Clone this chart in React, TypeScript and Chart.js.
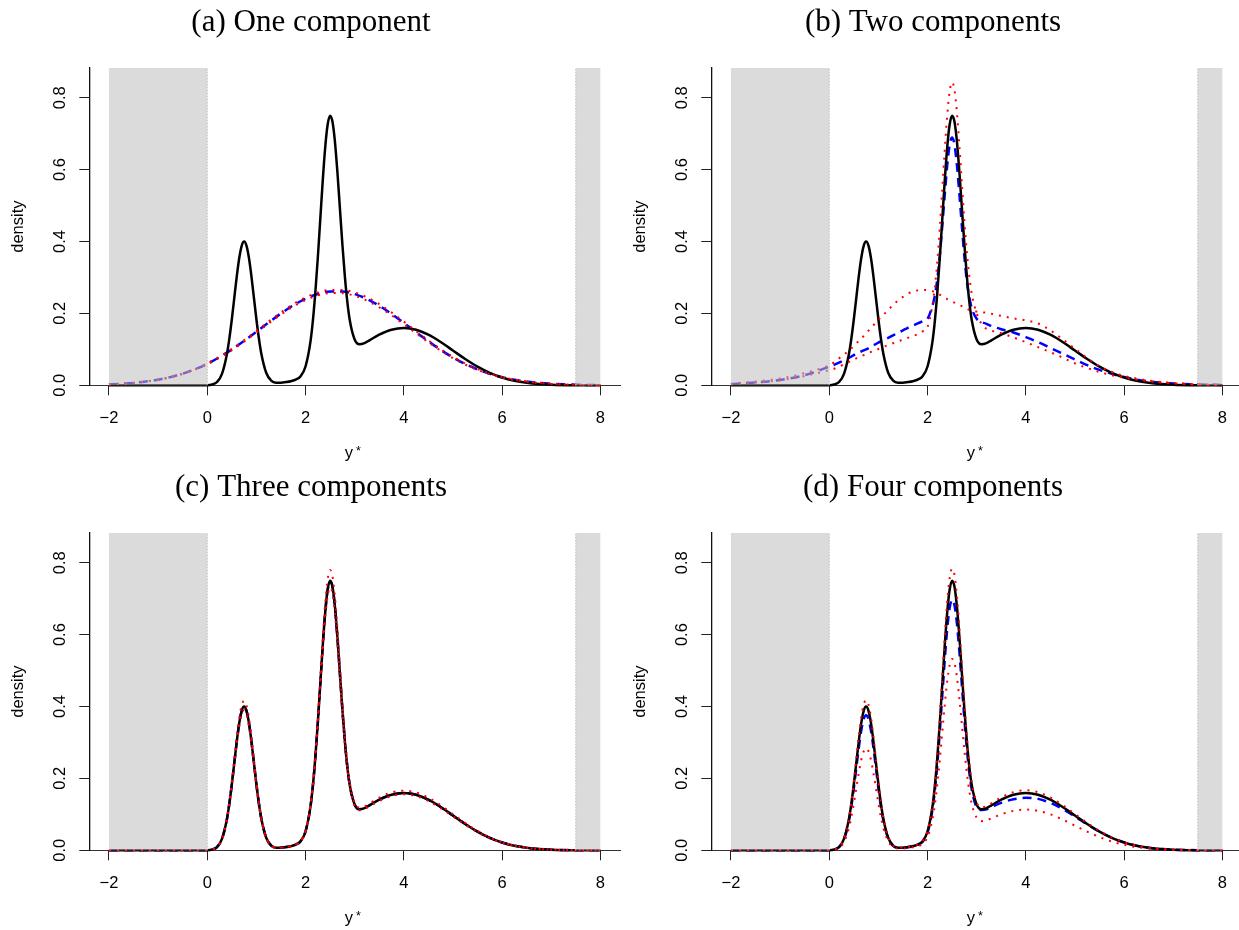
import React, { useEffect, useRef } from "react";
import { Chart, registerables } from "chart.js";

Chart.register(...registerables);

// ---------- data ----------
const xTicks = [-2, 0, 2, 4, 6, 8];
const yTicks = [0, 0.2, 0.4, 0.6, 0.8];
const shadedRegions: [number, number][] = [[-2, 0], [7.5, 8]];
const panelTitles = ["(a) One component", "(b) Two components", "(c) Three components", "(d) Four components"];

const xGrid = [
  -2, -1, -0.5, 0, 0.1, 0.2, 0.3, 0.4, 0.45, 0.5,
  0.55, 0.6, 0.65, 0.7, 0.75, 0.8, 0.85, 0.9, 0.95, 1,
  1.05, 1.1, 1.2, 1.3, 1.4, 1.5, 1.6, 1.7, 1.8, 1.9,
  2, 2.1, 2.15, 2.2, 2.25, 2.3, 2.35, 2.4, 2.45, 2.5,
  2.55, 2.6, 2.65, 2.7, 2.75, 2.8, 2.85, 2.9, 3, 3.1,
  3.2, 3.3, 3.5, 3.75, 4, 4.25, 4.5, 4.75, 5, 5.25,
  5.5, 5.75, 6, 6.25, 6.5, 6.75, 7, 7.5, 8,
];

const trueDensity = [
  0, 0, 0, 0.0004, 0.0021, 0.0092, 0.0319, 0.0865, 0.1298, 0.183,
  0.2424, 0.3016, 0.3527, 0.3874, 0.3997, 0.3877, 0.3532, 0.3024, 0.2435, 0.1844,
  0.1316, 0.0887, 0.0349, 0.0133, 0.0074, 0.0074, 0.0091, 0.0115, 0.0157, 0.0254,
  0.0523, 0.1208, 0.1798, 0.2583, 0.3541, 0.461, 0.5679, 0.6605, 0.7247, 0.7499,
  0.7325, 0.676, 0.5912, 0.492, 0.3927, 0.3044, 0.2334, 0.1817, 0.1275, 0.1142,
  0.1174, 0.1251, 0.1408, 0.1547, 0.1596, 0.1547, 0.1408, 0.1205, 0.0968, 0.0731,
  0.0518, 0.0345, 0.0216, 0.0127, 0.007, 0.0036, 0.0018, 0.0004, 0,
];

// (a) one component
const xA = [
  -2, -1.75, -1.5, -1.25, -1, -0.75, -0.5, -0.25, 0, 0.25,
  0.5, 0.75, 1, 1.25, 1.5, 1.75, 2, 2.25, 2.5, 2.75,
  3, 3.25, 3.5, 3.75, 4, 4.25, 4.5, 4.75, 5, 5.25,
  5.5, 5.75, 6, 6.25, 6.5, 6.75, 7, 7.25, 7.5, 7.75, 8,
];
const meanA = [
  0.0027, 0.0043, 0.0068, 0.0105, 0.0156, 0.0228, 0.0323, 0.0445, 0.0598, 0.0782,
  0.0996, 0.1234, 0.1488, 0.1747, 0.1998, 0.2223, 0.2408, 0.254, 0.2608, 0.2607,
  0.2536, 0.2402, 0.2215, 0.1988, 0.1737, 0.1477, 0.1223, 0.0986, 0.0774, 0.0591,
  0.044, 0.0318, 0.0224, 0.0154, 0.0103, 0.0067, 0.0042, 0.0026, 0.0016, 0.0009, 0.0005,
];
const upperA = [
  0.0029, 0.0046, 0.0072, 0.011, 0.0162, 0.0236, 0.0332, 0.0456, 0.0611, 0.0797,
  0.1014, 0.1255, 0.1512, 0.1774, 0.2028, 0.2257, 0.2445, 0.258, 0.265, 0.2652,
  0.2582, 0.2448, 0.2259, 0.2028, 0.1773, 0.1508, 0.1249, 0.1008, 0.0792, 0.0606,
  0.0452, 0.0328, 0.0232, 0.016, 0.0108, 0.0071, 0.0045, 0.0028, 0.0017, 0.001, 0.0006,
];
const lowerA = [
  0.0025, 0.004, 0.0064, 0.01, 0.015, 0.022, 0.0314, 0.0434, 0.0585, 0.0767,
  0.0978, 0.1213, 0.1464, 0.172, 0.1968, 0.2189, 0.2371, 0.25, 0.2566, 0.2562,
  0.249, 0.2356, 0.2171, 0.1948, 0.1701, 0.1446, 0.1197, 0.0964, 0.0756, 0.0576,
  0.0428, 0.0308, 0.0216, 0.0148, 0.0098, 0.0063, 0.0039, 0.0024, 0.0015, 0.0008, 0.0004,
];

// (b) two components
const meanB = [
  0.003, 0.015, 0.028, 0.052, 0.057, 0.063, 0.069, 0.076, 0.08, 0.084,
  0.088, 0.091, 0.094, 0.097, 0.1, 0.103, 0.107, 0.111, 0.115, 0.119,
  0.122, 0.126, 0.132, 0.139, 0.146, 0.153, 0.16, 0.166, 0.172, 0.178,
  0.185, 0.221, 0.25, 0.296, 0.361, 0.442, 0.529, 0.61, 0.668, 0.689,
  0.668, 0.61, 0.529, 0.442, 0.358, 0.29, 0.245, 0.215, 0.185, 0.176,
  0.171, 0.165, 0.156, 0.147, 0.134, 0.12, 0.104, 0.088, 0.072, 0.056,
  0.043, 0.032, 0.023, 0.016, 0.011, 0.0075, 0.005, 0.002, 0.001,
];
const upperB = [
  0.004, 0.019, 0.034, 0.056, 0.064, 0.075, 0.085, 0.097, 0.103, 0.11,
  0.117, 0.123, 0.13, 0.137, 0.145, 0.152, 0.16, 0.167, 0.175, 0.182,
  0.189, 0.196, 0.209, 0.224, 0.236, 0.246, 0.255, 0.26, 0.264, 0.265,
  0.265, 0.262, 0.259, 0.256, 0.252, 0.248, 0.244, 0.24, 0.236, 0.233,
  0.23, 0.227, 0.223, 0.22, 0.216, 0.213, 0.21, 0.208, 0.205, 0.203,
  0.202, 0.199, 0.193, 0.186, 0.181, 0.172, 0.153, 0.128, 0.102, 0.076,
  0.053, 0.037, 0.026, 0.019, 0.013, 0.009, 0.006, 0.003, 0.001,
];
const lowerB = [
  0.003, 0.014, 0.026, 0.042, 0.046, 0.052, 0.058, 0.065, 0.068, 0.072,
  0.075, 0.078, 0.081, 0.084, 0.087, 0.09, 0.093, 0.096, 0.099, 0.101,
  0.104, 0.107, 0.112, 0.117, 0.122, 0.127, 0.132, 0.137, 0.142, 0.15,
  0.162, 0.222, 0.273, 0.345, 0.437, 0.544, 0.652, 0.749, 0.817, 0.843,
  0.821, 0.757, 0.664, 0.56, 0.458, 0.371, 0.304, 0.255, 0.2, 0.171,
  0.157, 0.152, 0.145, 0.133, 0.12, 0.106, 0.092, 0.077, 0.061, 0.048,
  0.037, 0.028, 0.021, 0.016, 0.011, 0.008, 0.0055, 0.0025, 0.001,
];

// (c) three components
const meanC = [
  0, 0, 0, 0.0004, 0.0021, 0.0091, 0.0316, 0.086, 0.1292, 0.1824,
  0.2418, 0.301, 0.3521, 0.3868, 0.3991, 0.3872, 0.3528, 0.3021, 0.2433, 0.1843,
  0.1316, 0.0887, 0.035, 0.0134, 0.0075, 0.0075, 0.0092, 0.0116, 0.0158, 0.0255,
  0.0522, 0.1204, 0.1792, 0.2576, 0.3533, 0.4601, 0.567, 0.6596, 0.7238, 0.749,
  0.7317, 0.6753, 0.5906, 0.4915, 0.3924, 0.3042, 0.2333, 0.1817, 0.1276, 0.1144,
  0.1176, 0.1252, 0.1407, 0.1545, 0.1593, 0.1544, 0.1405, 0.1203, 0.0967, 0.0731,
  0.0518, 0.0346, 0.0217, 0.0128, 0.0071, 0.0036, 0.0018, 0.0004, 0,
];
const upperC = [
  0, 0, 0, 0.0004, 0.0022, 0.0096, 0.0332, 0.09, 0.135, 0.1903,
  0.2521, 0.3137, 0.3668, 0.4029, 0.4157, 0.4032, 0.3673, 0.3145, 0.2532, 0.1918,
  0.1369, 0.0922, 0.0363, 0.0138, 0.0077, 0.0077, 0.0095, 0.012, 0.0163, 0.0264,
  0.0544, 0.1256, 0.187, 0.2686, 0.3683, 0.4794, 0.5906, 0.6869, 0.7537, 0.7799,
  0.7618, 0.703, 0.6148, 0.5117, 0.4084, 0.3166, 0.2427, 0.189, 0.1326, 0.1188,
  0.1221, 0.1301, 0.1464, 0.1609, 0.166, 0.1609, 0.1464, 0.1253, 0.1007, 0.076,
  0.0539, 0.0359, 0.0225, 0.0132, 0.0073, 0.0037, 0.0019, 0.0004, 0,
];
const lowerC = [
  0, 0, 0, 0.0004, 0.002, 0.009, 0.0311, 0.0843, 0.1266, 0.1784,
  0.2363, 0.2941, 0.3439, 0.3777, 0.3897, 0.378, 0.3444, 0.2948, 0.2374, 0.1798,
  0.1283, 0.0865, 0.034, 0.013, 0.0072, 0.0072, 0.0089, 0.0112, 0.0153, 0.0248,
  0.051, 0.1178, 0.1753, 0.2518, 0.3452, 0.4495, 0.5537, 0.644, 0.7066, 0.7312,
  0.7142, 0.6591, 0.5764, 0.4797, 0.3829, 0.2968, 0.2276, 0.1772, 0.1243, 0.1113,
  0.1145, 0.122, 0.1373, 0.1508, 0.1556, 0.1508, 0.1373, 0.1175, 0.0944, 0.0713,
  0.0505, 0.0336, 0.0211, 0.0124, 0.0068, 0.0035, 0.0018, 0.0004, 0,
];

// (d) four components
const meanD = [
  0, 0, 0, 0.0004, 0.002, 0.0086, 0.03, 0.0813, 0.122, 0.172,
  0.2279, 0.2835, 0.3315, 0.3642, 0.3757, 0.3644, 0.332, 0.2843, 0.2289, 0.1733,
  0.1237, 0.0834, 0.0328, 0.0125, 0.007, 0.007, 0.0086, 0.0108, 0.0148, 0.0237,
  0.0486, 0.1123, 0.1672, 0.2402, 0.3293, 0.4287, 0.5281, 0.6143, 0.674, 0.6974,
  0.6812, 0.6287, 0.5498, 0.4576, 0.3652, 0.2831, 0.2171, 0.169, 0.12, 0.112,
  0.114, 0.12, 0.132, 0.142, 0.146, 0.143, 0.132, 0.115, 0.094, 0.072,
  0.052, 0.035, 0.022, 0.013, 0.0072, 0.0037, 0.0019, 0.0004, 0,
];
const upperD = [
  0, 0, 0, 0.0004, 0.0022, 0.0096, 0.0333, 0.0904, 0.1356, 0.1912,
  0.2533, 0.3152, 0.3686, 0.4048, 0.4177, 0.4051, 0.3691, 0.316, 0.2545, 0.1927,
  0.1375, 0.0927, 0.0365, 0.0139, 0.0077, 0.0077, 0.0095, 0.012, 0.0164, 0.0265,
  0.0547, 0.1262, 0.1879, 0.2699, 0.37, 0.4817, 0.5935, 0.6902, 0.7573, 0.7836,
  0.7655, 0.7064, 0.6178, 0.5141, 0.4104, 0.3181, 0.2439, 0.1899, 0.1332, 0.1193,
  0.1227, 0.1307, 0.1471, 0.1617, 0.1668, 0.1617, 0.1471, 0.1259, 0.1012, 0.0764,
  0.0541, 0.0361, 0.0226, 0.0133, 0.0073, 0.0038, 0.0019, 0.0004, 0,
];
const lowerD = [
  0, 0, 0, 0.0003, 0.0015, 0.0065, 0.0226, 0.0614, 0.0922, 0.1299,
  0.1721, 0.2141, 0.2504, 0.2751, 0.2838, 0.2753, 0.2508, 0.2147, 0.1729, 0.1309,
  0.0934, 0.063, 0.0248, 0.0094, 0.0053, 0.0053, 0.0065, 0.0082, 0.0111, 0.018,
  0.0371, 0.0858, 0.1277, 0.1834, 0.2514, 0.3273, 0.4032, 0.469, 0.5145, 0.5324,
  0.5201, 0.48, 0.4198, 0.3493, 0.2788, 0.2161, 0.1657, 0.129, 0.0905, 0.0811,
  0.0834, 0.0888, 0.1, 0.1098, 0.1133, 0.1098, 0.1, 0.0856, 0.0687, 0.0519,
  0.0368, 0.0245, 0.0153, 0.009, 0.005, 0.0026, 0.0013, 0.0003, 0,
];

// ---------- layout / style ----------
const PANEL_W = 622;
const PANEL_H = 465;
const PANEL_DX = 622.4;
const SANS = '"Liberation Sans", Arial, Helvetica, sans-serif';
const SERIF = '"Liberation Serif", "Times New Roman", serif';

const pairs = (xs: number[], ys: number[]) => xs.map((x, i) => ({ x, y: ys[i] }));
const fmtX = (v: number) => (v < 0 ? "\u2212" + Math.abs(v) : String(v));

function makeDecor(title: string) {
  return {
    id: "decor",
    afterDatasetsDraw(chart: any) {
      const { ctx, scales } = chart;
      const x = scales.x;
      const y = scales.y;
      const yTop = y.getPixelForValue(y.max);
      const yBot = y.getPixelForValue(0);
      ctx.save();
      ctx.fillStyle = "rgba(190,190,190,0.55)";
      for (const [a, b] of shadedRegions) {
        const x0 = x.getPixelForValue(a);
        const x1 = x.getPixelForValue(b);
        ctx.fillRect(x0, yTop, x1 - x0, yBot - yTop);
      }
      ctx.strokeStyle = "#bdbdbd";
      ctx.lineWidth = 1;
      ctx.setLineDash([1.5, 1.5]);
      for (const v of [shadedRegions[0][1], shadedRegions[1][0]]) {
        const px = x.getPixelForValue(v);
        ctx.beginPath();
        ctx.moveTo(px, yBot);
        ctx.lineTo(px, yTop);
        ctx.stroke();
      }
      ctx.restore();
    },
    afterDraw(chart: any) {
      const { ctx, chartArea, scales } = chart;
      const y = scales.y;
      ctx.save();
      ctx.fillStyle = "#000";
      // title
      ctx.font = `31px ${SERIF}`;
      ctx.textAlign = "center";
      ctx.textBaseline = "alphabetic";
      ctx.fillText(title, 311, 31);
      // y tick labels, rotated
      ctx.font = `16.5px ${SANS}`;
      for (const v of yTicks) {
        const py = y.getPixelForValue(v);
        ctx.save();
        ctx.translate(chartArea.left - 24.3, py);
        ctx.rotate(-Math.PI / 2);
        ctx.textAlign = "center";
        ctx.fillText(v.toFixed(1), 0, 0);
        ctx.restore();
      }
      // y axis title
      ctx.save();
      ctx.translate(23, (chartArea.top + chartArea.bottom) / 2);
      ctx.rotate(-Math.PI / 2);
      ctx.textAlign = "center";
      ctx.fillText("density", 0, 0);
      ctx.restore();
      // x axis title y*
      const cx = (chartArea.left + chartArea.right) / 2;
      ctx.textAlign = "center";
      ctx.fillText("y", cx - 5.8, 457.5);
      ctx.font = `12.5px ${SANS}`;
      ctx.textAlign = "left";
      ctx.fillText("*", cx + 1.3, 455);
      ctx.restore();
    },
  };
}

type PanelProps = {
  index: number;
  title: string;
  xs: number[];
  mean: number[];
  lower: number[];
  upper: number[];
};

function Panel({ index, title, xs, mean, lower, upper }: PanelProps) {
  const ref = useRef<HTMLCanvasElement | null>(null);
  useEffect(() => {
    const canvas = ref.current;
    if (!canvas) return;
    const common = {
      pointRadius: 0,
      fill: false,
      cubicInterpolationMode: "monotone" as const,
      borderCapStyle: "butt" as const,
      clip: 6,
    };
    const chart = new Chart(canvas, {
      type: "line",
      data: {
        datasets: [
          { label: "upper", data: pairs(xs, upper), borderColor: "#ff0000", borderWidth: 2, borderDash: [2, 6], ...common },
          { label: "lower", data: pairs(xs, lower), borderColor: "#ff0000", borderWidth: 2, borderDash: [2, 6], ...common },
          { label: "true", data: pairs(xGrid, trueDensity), borderColor: "#000000", borderWidth: 2.5, ...common },
          { label: "mean", data: pairs(xs, mean), borderColor: "#0000ff", borderWidth: 2.5, borderDash: [9, 6], ...common },
        ],
      },
      options: {
        animation: false,
        responsive: false,
        events: [],
        layout: { padding: { left: 0, top: 68, right: 2, bottom: 0 } },
        plugins: { legend: { display: false }, tooltip: { enabled: false }, title: { display: false } },
        scales: {
          x: {
            type: "linear",
            min: -2.4,
            max: 8.4,
            afterBuildTicks: (s: any) => {
              s.ticks = xTicks.map((v) => ({ value: v }));
            },
            afterFit: (s: any) => {
              s.height = 79.7;
            },
            grid: { display: true, drawOnChartArea: false, drawTicks: true, tickLength: 10, color: "#222", lineWidth: 1 },
            border: { display: true, color: "#333", width: 1 },
            ticks: {
              color: "#000",
              font: { family: SANS, size: 16.5 },
              padding: 13,
              maxRotation: 0,
              minRotation: 0,
              autoSkip: false,
              callback: (v: any) => fmtX(Number(v)),
            },
          },
          y: {
            type: "linear",
            min: 0,
            max: 0.8826,
            afterBuildTicks: (s: any) => {
              s.ticks = yTicks.map((v) => ({ value: v }));
            },
            afterFit: (s: any) => {
              s.width = 89.3;
            },
            grid: { display: true, drawOnChartArea: false, drawTicks: true, tickLength: 10, color: "#222", lineWidth: 1 },
            border: { display: true, color: "#111", width: 1.3 },
            ticks: { display: false },
          },
        },
      } as any,
      plugins: [makeDecor(title)],
    });
    return () => chart.destroy();
  }, [title, xs, mean, lower, upper]);

  const left = (index % 2) * PANEL_DX;
  const top = Math.floor(index / 2) * PANEL_H;
  return (
    <canvas
      ref={ref}
      width={PANEL_W}
      height={PANEL_H}
      style={{ position: "absolute", left, top, width: PANEL_W, height: PANEL_H }}
    />
  );
}

export default function App() {
  const panels = [
    { xs: xA, mean: meanA, lower: lowerA, upper: upperA },
    { xs: xGrid, mean: meanB, lower: lowerB, upper: upperB },
    { xs: xGrid, mean: meanC, lower: lowerC, upper: upperC },
    { xs: xGrid, mean: meanD, lower: lowerD, upper: upperD },
  ];
  return (
    <div
      style={{
        position: "absolute",
        left: 0,
        top: 0,
        width: 1239,
        height: 930,
        overflow: "hidden",
        background: "#fff",
      }}
    >
      {panels.map((p, i) => (
        <Panel key={i} index={i} title={panelTitles[i]} xs={p.xs} mean={p.mean} lower={p.lower} upper={p.upper} />
      ))}
    </div>
  );
}
